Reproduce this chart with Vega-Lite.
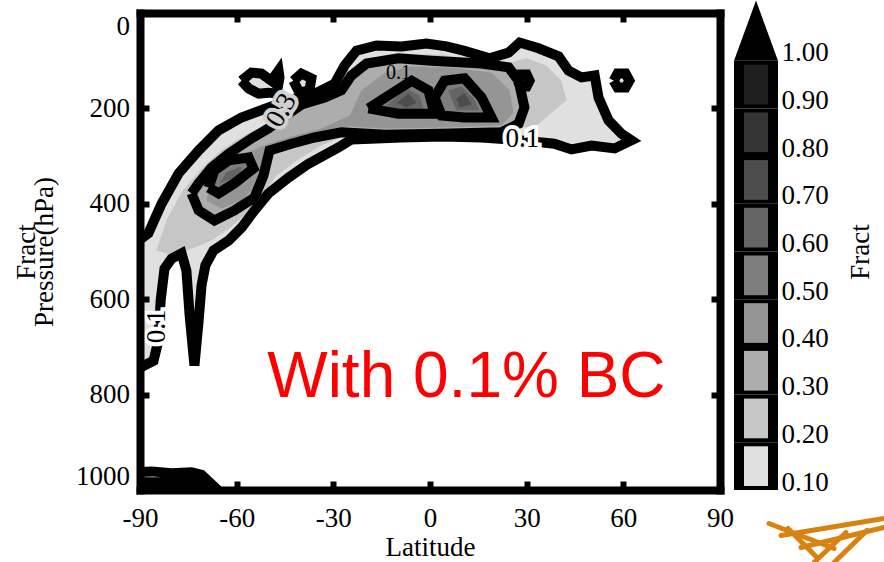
{
  "$schema": "https://vega.github.io/schema/vega-lite/v6.json",
  "background": "white",
  "padding": {"left": 12, "top": 0, "right": 0, "bottom": 0},
  "bounds": "flush",
  "config": {"view": {"stroke": null}, "axis": {"grid": false}},
  "datasets": {
    "poly": [
      {"id":"a","lv":0.1,"i":0,"lat":-93,"p":490},{"id":"a","lv":0.1,"i":1,"lat":-87.4,"p":462},{"id":"a","lv":0.1,"i":2,"lat":-83.3,"p":400},{"id":"a","lv":0.1,"i":3,"lat":-78,"p":336},{"id":"a","lv":0.1,"i":4,"lat":-71.8,"p":288},{"id":"a","lv":0.1,"i":5,"lat":-65.6,"p":246},{"id":"a","lv":0.1,"i":6,"lat":-58.5,"p":219},{"id":"a","lv":0.1,"i":7,"lat":-50.1,"p":198},{"id":"a","lv":0.1,"i":8,"lat":-43.9,"p":183},{"id":"a","lv":0.1,"i":9,"lat":-35.8,"p":169},{"id":"a","lv":0.1,"i":10,"lat":-29.6,"p":148},{"id":"a","lv":0.1,"i":11,"lat":-26.5,"p":110},{"id":"a","lv":0.1,"i":12,"lat":-22.8,"p":79},{"id":"a","lv":0.1,"i":13,"lat":-16.6,"p":68},{"id":"a","lv":0.1,"i":14,"lat":-8.8,"p":70},{"id":"a","lv":0.1,"i":15,"lat":-1.1,"p":64},{"id":"a","lv":0.1,"i":16,"lat":5.1,"p":70},{"id":"a","lv":0.1,"i":17,"lat":10.4,"p":79},{"id":"a","lv":0.1,"i":18,"lat":18.5,"p":95},{"id":"a","lv":0.1,"i":19,"lat":24.4,"p":83},{"id":"a","lv":0.1,"i":20,"lat":27.8,"p":62},{"id":"a","lv":0.1,"i":21,"lat":33.7,"p":74},{"id":"a","lv":0.1,"i":22,"lat":39.9,"p":91},{"id":"a","lv":0.1,"i":23,"lat":43,"p":121},{"id":"a","lv":0.1,"i":24,"lat":47,"p":135},{"id":"a","lv":0.1,"i":25,"lat":51.1,"p":131},{"id":"a","lv":0.1,"i":26,"lat":52.3,"p":177},{"id":"a","lv":0.1,"i":27,"lat":55.4,"p":225},{"id":"a","lv":0.1,"i":28,"lat":59.4,"p":253},{"id":"a","lv":0.1,"i":29,"lat":62.5,"p":267},{"id":"a","lv":0.1,"i":30,"lat":57.3,"p":284},{"id":"a","lv":0.1,"i":31,"lat":50.1,"p":278},{"id":"a","lv":0.1,"i":32,"lat":43.9,"p":286},{"id":"a","lv":0.1,"i":33,"lat":38.6,"p":274},{"id":"a","lv":0.1,"i":34,"lat":28.4,"p":267},{"id":"a","lv":0.1,"i":35,"lat":16,"p":261},{"id":"a","lv":0.1,"i":36,"lat":3.6,"p":259},{"id":"a","lv":0.1,"i":37,"lat":-8.8,"p":261},{"id":"a","lv":0.1,"i":38,"lat":-24.4,"p":265},{"id":"a","lv":0.1,"i":39,"lat":-28.4,"p":282},{"id":"a","lv":0.1,"i":40,"lat":-37.7,"p":316},{"id":"a","lv":0.1,"i":41,"lat":-43.9,"p":345},{"id":"a","lv":0.1,"i":42,"lat":-50.1,"p":378},{"id":"a","lv":0.1,"i":43,"lat":-54.5,"p":414},{"id":"a","lv":0.1,"i":44,"lat":-58.5,"p":450},{"id":"a","lv":0.1,"i":45,"lat":-62.5,"p":477},{"id":"a","lv":0.1,"i":46,"lat":-67.2,"p":498},{"id":"a","lv":0.1,"i":47,"lat":-69.7,"p":529},{"id":"a","lv":0.1,"i":48,"lat":-70.9,"p":571},{"id":"a","lv":0.1,"i":49,"lat":-71.8,"p":645},{"id":"a","lv":0.1,"i":50,"lat":-73.1,"p":739},{"id":"a","lv":0.1,"i":51,"lat":-74.6,"p":634},{"id":"a","lv":0.1,"i":52,"lat":-75.6,"p":540},{"id":"a","lv":0.1,"i":53,"lat":-77.1,"p":504},{"id":"a","lv":0.1,"i":54,"lat":-80.2,"p":515},{"id":"a","lv":0.1,"i":55,"lat":-82.4,"p":536},{"id":"a","lv":0.1,"i":56,"lat":-83.6,"p":603},{"id":"a","lv":0.1,"i":57,"lat":-84.3,"p":687},{"id":"a","lv":0.1,"i":58,"lat":-85.8,"p":729},{"id":"a","lv":0.1,"i":59,"lat":-93,"p":754},{"id":"a","lv":0.1,"i":60,"lat":-93,"p":490},
      {"id":"b1","lv":0.1,"i":0,"lat":-58.5,"p":142},{"id":"b1","lv":0.1,"i":1,"lat":-55.4,"p":125},{"id":"b1","lv":0.1,"i":2,"lat":-52.3,"p":127},{"id":"b1","lv":0.1,"i":3,"lat":-49.2,"p":142},{"id":"b1","lv":0.1,"i":4,"lat":-47,"p":121},{"id":"b1","lv":0.1,"i":5,"lat":-46.7,"p":135},{"id":"b1","lv":0.1,"i":6,"lat":-47.6,"p":169},{"id":"b1","lv":0.1,"i":7,"lat":-50.1,"p":167},{"id":"b1","lv":0.1,"i":8,"lat":-53.2,"p":169},{"id":"b1","lv":0.1,"i":9,"lat":-56.3,"p":158},{"id":"b1","lv":0.1,"i":10,"lat":-58.5,"p":142},
      {"id":"b2","lv":0.1,"i":0,"lat":-42.4,"p":142},{"id":"b2","lv":0.1,"i":1,"lat":-39.9,"p":127},{"id":"b2","lv":0.1,"i":2,"lat":-36.8,"p":137},{"id":"b2","lv":0.1,"i":3,"lat":-37.4,"p":162},{"id":"b2","lv":0.1,"i":4,"lat":-40.5,"p":167},{"id":"b2","lv":0.1,"i":5,"lat":-42.4,"p":142},
      {"id":"b3","lv":0.1,"i":0,"lat":57,"p":142},{"id":"b3","lv":0.1,"i":1,"lat":58.2,"p":127},{"id":"b3","lv":0.1,"i":2,"lat":60.7,"p":127},{"id":"b3","lv":0.1,"i":3,"lat":61.9,"p":142},{"id":"b3","lv":0.1,"i":4,"lat":60.7,"p":156},{"id":"b3","lv":0.1,"i":5,"lat":58.2,"p":156},{"id":"b3","lv":0.1,"i":6,"lat":57,"p":142},
      {"id":"b4","lv":0.1,"i":0,"lat":27.2,"p":142},{"id":"b4","lv":0.1,"i":1,"lat":28.1,"p":129},{"id":"b4","lv":0.1,"i":2,"lat":30,"p":129},{"id":"b4","lv":0.1,"i":3,"lat":30.9,"p":142},{"id":"b4","lv":0.1,"i":4,"lat":30,"p":154},{"id":"b4","lv":0.1,"i":5,"lat":28.1,"p":154},{"id":"b4","lv":0.1,"i":6,"lat":27.2,"p":142},
      {"id":"b5","lv":0.1,"i":0,"lat":-92.6,"p":963},{"id":"b5","lv":0.1,"i":1,"lat":-86.4,"p":961},{"id":"b5","lv":0.1,"i":2,"lat":-80.2,"p":965},{"id":"b5","lv":0.1,"i":3,"lat":-74,"p":963},{"id":"b5","lv":0.1,"i":4,"lat":-70.9,"p":968},{"id":"b5","lv":0.1,"i":5,"lat":-68.4,"p":984},{"id":"b5","lv":0.1,"i":6,"lat":-92.6,"p":984},{"id":"b5","lv":0.1,"i":7,"lat":-92.6,"p":963},
      {"id":"c","lv":0.2,"i":0,"lat":-84.9,"p":498},{"id":"c","lv":0.2,"i":1,"lat":-81.8,"p":435},{"id":"c","lv":0.2,"i":2,"lat":-77.1,"p":376},{"id":"c","lv":0.2,"i":3,"lat":-70.9,"p":326},{"id":"c","lv":0.2,"i":4,"lat":-64.1,"p":284},{"id":"c","lv":0.2,"i":5,"lat":-56,"p":250},{"id":"c","lv":0.2,"i":6,"lat":-47.6,"p":225},{"id":"c","lv":0.2,"i":7,"lat":-39.9,"p":204},{"id":"c","lv":0.2,"i":8,"lat":-30.6,"p":179},{"id":"c","lv":0.2,"i":9,"lat":-25.9,"p":142},{"id":"c","lv":0.2,"i":10,"lat":-21.3,"p":100},{"id":"c","lv":0.2,"i":11,"lat":-8.8,"p":87},{"id":"c","lv":0.2,"i":12,"lat":3.6,"p":87},{"id":"c","lv":0.2,"i":13,"lat":16,"p":104},{"id":"c","lv":0.2,"i":14,"lat":23.7,"p":106},{"id":"c","lv":0.2,"i":15,"lat":29.9,"p":95},{"id":"c","lv":0.2,"i":16,"lat":36.1,"p":110},{"id":"c","lv":0.2,"i":17,"lat":40.8,"p":142},{"id":"c","lv":0.2,"i":18,"lat":42.4,"p":183},{"id":"c","lv":0.2,"i":19,"lat":37.7,"p":209},{"id":"c","lv":0.2,"i":20,"lat":33.1,"p":236},{"id":"c","lv":0.2,"i":21,"lat":23.7,"p":246},{"id":"c","lv":0.2,"i":22,"lat":3.6,"p":246},{"id":"c","lv":0.2,"i":23,"lat":-14,"p":248},{"id":"c","lv":0.2,"i":24,"lat":-24.9,"p":253},{"id":"c","lv":0.2,"i":25,"lat":-33.7,"p":278},{"id":"c","lv":0.2,"i":26,"lat":-41.4,"p":309},{"id":"c","lv":0.2,"i":27,"lat":-47.6,"p":341},{"id":"c","lv":0.2,"i":28,"lat":-52.3,"p":383},{"id":"c","lv":0.2,"i":29,"lat":-57,"p":420},{"id":"c","lv":0.2,"i":30,"lat":-62.2,"p":452},{"id":"c","lv":0.2,"i":31,"lat":-67.8,"p":477},{"id":"c","lv":0.2,"i":32,"lat":-74,"p":494},{"id":"c","lv":0.2,"i":33,"lat":-79.6,"p":508},
      {"id":"d","lv":0.3,"i":0,"lat":-74,"p":378},{"id":"d","lv":0.3,"i":1,"lat":-71.8,"p":357},{"id":"d","lv":0.3,"i":2,"lat":-67.8,"p":324},{"id":"d","lv":0.3,"i":3,"lat":-62.5,"p":295},{"id":"d","lv":0.3,"i":4,"lat":-55.4,"p":263},{"id":"d","lv":0.3,"i":5,"lat":-50.1,"p":242},{"id":"d","lv":0.3,"i":6,"lat":-45.2,"p":217},{"id":"d","lv":0.3,"i":7,"lat":-39.9,"p":192},{"id":"d","lv":0.3,"i":8,"lat":-32.7,"p":177},{"id":"d","lv":0.3,"i":9,"lat":-27.5,"p":162},{"id":"d","lv":0.3,"i":10,"lat":-24.4,"p":131},{"id":"d","lv":0.3,"i":11,"lat":-19.7,"p":106},{"id":"d","lv":0.3,"i":12,"lat":-9.8,"p":95},{"id":"d","lv":0.3,"i":13,"lat":0.5,"p":100},{"id":"d","lv":0.3,"i":14,"lat":16,"p":106},{"id":"d","lv":0.3,"i":15,"lat":24.4,"p":114},{"id":"d","lv":0.3,"i":16,"lat":27.5,"p":142},{"id":"d","lv":0.3,"i":17,"lat":29.3,"p":198},{"id":"d","lv":0.3,"i":18,"lat":27.5,"p":232},{"id":"d","lv":0.3,"i":19,"lat":22.2,"p":250},{"id":"d","lv":0.3,"i":20,"lat":3.6,"p":253},{"id":"d","lv":0.3,"i":21,"lat":-14,"p":255},{"id":"d","lv":0.3,"i":22,"lat":-27.5,"p":250},{"id":"d","lv":0.3,"i":23,"lat":-35.8,"p":261},{"id":"d","lv":0.3,"i":24,"lat":-43,"p":274},{"id":"d","lv":0.3,"i":25,"lat":-49.8,"p":288},{"id":"d","lv":0.3,"i":26,"lat":-51.7,"p":341},{"id":"d","lv":0.3,"i":27,"lat":-54.5,"p":387},{"id":"d","lv":0.3,"i":28,"lat":-60.7,"p":414},{"id":"d","lv":0.3,"i":29,"lat":-66.9,"p":435},{"id":"d","lv":0.3,"i":30,"lat":-71.8,"p":414},{"id":"d","lv":0.3,"i":31,"lat":-74,"p":378},
      {"id":"e","lv":0.4,"i":0,"lat":-69.4,"p":393},{"id":"e","lv":0.4,"i":1,"lat":-67.2,"p":334},{"id":"e","lv":0.4,"i":2,"lat":-60.1,"p":303},{"id":"e","lv":0.4,"i":3,"lat":-51.7,"p":278},{"id":"e","lv":0.4,"i":4,"lat":-43,"p":259},{"id":"e","lv":0.4,"i":5,"lat":-33.7,"p":242},{"id":"e","lv":0.4,"i":6,"lat":-24.9,"p":215},{"id":"e","lv":0.4,"i":7,"lat":-21.3,"p":162},{"id":"e","lv":0.4,"i":8,"lat":-14,"p":125},{"id":"e","lv":0.4,"i":9,"lat":-5.7,"p":112},{"id":"e","lv":0.4,"i":10,"lat":6.7,"p":114},{"id":"e","lv":0.4,"i":11,"lat":19.1,"p":125},{"id":"e","lv":0.4,"i":12,"lat":24.7,"p":162},{"id":"e","lv":0.4,"i":13,"lat":25.9,"p":209},{"id":"e","lv":0.4,"i":14,"lat":22.2,"p":236},{"id":"e","lv":0.4,"i":15,"lat":3.6,"p":240},{"id":"e","lv":0.4,"i":16,"lat":-14,"p":242},{"id":"e","lv":0.4,"i":17,"lat":-24.9,"p":238},{"id":"e","lv":0.4,"i":18,"lat":-35.2,"p":250},{"id":"e","lv":0.4,"i":19,"lat":-44.5,"p":267},{"id":"e","lv":0.4,"i":20,"lat":-50.7,"p":299},{"id":"e","lv":0.4,"i":21,"lat":-52.9,"p":355},{"id":"e","lv":0.4,"i":22,"lat":-58.5,"p":393},{"id":"e","lv":0.4,"i":23,"lat":-64.7,"p":410},
      {"id":"f1","lv":0.5,"i":0,"lat":-19.1,"p":200},{"id":"f1","lv":0.5,"i":1,"lat":-12,"p":169},{"id":"f1","lv":0.5,"i":2,"lat":-5.7,"p":142},{"id":"f1","lv":0.5,"i":3,"lat":-0.5,"p":162},{"id":"f1","lv":0.5,"i":4,"lat":1.4,"p":211},{"id":"f1","lv":0.5,"i":5,"lat":-9.8,"p":211},{"id":"f1","lv":0.5,"i":6,"lat":-19.1,"p":200},
      {"id":"f2","lv":0.5,"i":0,"lat":1.4,"p":177},{"id":"f2","lv":0.5,"i":1,"lat":4.5,"p":142},{"id":"f2","lv":0.5,"i":2,"lat":10.7,"p":137},{"id":"f2","lv":0.5,"i":3,"lat":16,"p":177},{"id":"f2","lv":0.5,"i":4,"lat":19.1,"p":219},{"id":"f2","lv":0.5,"i":5,"lat":10.7,"p":219},{"id":"f2","lv":0.5,"i":6,"lat":3.6,"p":215},{"id":"f2","lv":0.5,"i":7,"lat":1.4,"p":177},
      {"id":"f3","lv":0.5,"i":0,"lat":-68.7,"p":366},{"id":"f3","lv":0.5,"i":1,"lat":-66.9,"p":330},{"id":"f3","lv":0.5,"i":2,"lat":-62.5,"p":309},{"id":"f3","lv":0.5,"i":3,"lat":-56.3,"p":303},{"id":"f3","lv":0.5,"i":4,"lat":-54.8,"p":326},{"id":"f3","lv":0.5,"i":5,"lat":-60.7,"p":357},{"id":"f3","lv":0.5,"i":6,"lat":-65.6,"p":378},{"id":"f3","lv":0.5,"i":7,"lat":-68.7,"p":366},
      {"id":"g1","lv":0.6,"i":0,"lat":-13.5,"p":194},{"id":"g1","lv":0.6,"i":1,"lat":-7.3,"p":158},{"id":"g1","lv":0.6,"i":2,"lat":-3.3,"p":173},{"id":"g1","lv":0.6,"i":3,"lat":-2,"p":200},{"id":"g1","lv":0.6,"i":4,"lat":-8.8,"p":204},
      {"id":"g2","lv":0.6,"i":0,"lat":5.7,"p":162},{"id":"g2","lv":0.6,"i":1,"lat":9.8,"p":154},{"id":"g2","lv":0.6,"i":2,"lat":13.5,"p":179},{"id":"g2","lv":0.6,"i":3,"lat":15.4,"p":204},{"id":"g2","lv":0.6,"i":4,"lat":8.2,"p":204},
      {"id":"g3","lv":0.6,"i":0,"lat":-65.3,"p":357},{"id":"g3","lv":0.6,"i":1,"lat":-63.2,"p":334},{"id":"g3","lv":0.6,"i":2,"lat":-58.5,"p":322},{"id":"g3","lv":0.6,"i":3,"lat":-59.1,"p":341},
      {"id":"h1","lv":0.7,"i":0,"lat":-10.1,"p":188},{"id":"h1","lv":0.7,"i":1,"lat":-6.7,"p":169},{"id":"h1","lv":0.7,"i":2,"lat":-4.2,"p":188},{"id":"h1","lv":0.7,"i":3,"lat":-7.3,"p":198},
      {"id":"h2","lv":0.7,"i":0,"lat":8.2,"p":179},{"id":"h2","lv":0.7,"i":1,"lat":10.7,"p":167},{"id":"h2","lv":0.7,"i":2,"lat":12.9,"p":192},{"id":"h2","lv":0.7,"i":3,"lat":9.2,"p":198}
    ],
    "bar": [
      {"lo":0.1,"hi":0.2},{"lo":0.2,"hi":0.3},{"lo":0.3,"hi":0.4},{"lo":0.4,"hi":0.5},{"lo":0.5,"hi":0.6},{"lo":0.6,"hi":0.7},{"lo":0.7,"hi":0.8},{"lo":0.8,"hi":0.9},{"lo":0.9,"hi":1.0}
    ],
    "tri": [
      {"i":0,"u":0,"v":1.0},{"i":1,"u":1,"v":1.0},{"i":2,"u":0.5,"v":1.126}
    ],
    "logo": [
      {"u":0.795,"v":0.0298,"u2":2.273,"v2":-0.0226},
      {"u":1.068,"v":0.0046,"u2":3.409,"v2":0.0403},
      {"u":1.523,"v":-0.0205,"u2":3.409,"v2":0.0214},
      {"u":1.818,"v":-0.052,"u2":2.545,"v2":0.0109},
      {"u":2.273,"v":-0.052,"u2":3.023,"v2":0.0151},
      {"u":1.227,"v":0.0193,"u2":1.864,"v2":-0.0394}
    ]
  },
  "hconcat": [
    {
      "width": 580,
      "height": 477,
      "data": {"name": "poly"},
      "resolve": {"axis": {"x": "independent", "y": "independent"}},
      "encoding": {
        "x": {"field": "lat", "type": "quantitative", "scale": {"domain": [-90, 90], "nice": false, "zero": false}},
        "y": {"field": "p", "type": "quantitative", "scale": {"domain": [0, 1000], "nice": false, "reverse": true}},
        "order": {"field": "i", "type": "quantitative"},
        "detail": {"field": "id", "type": "nominal"}
      },
      "layer": [
        {
          "transform": [{"filter": "datum.lv == 0.1"}],
          "mark": {"type": "line", "filled": true, "color": "#e0e0e0", "clip": true},
          "encoding": {
            "x": {"field": "lat", "type": "quantitative", "axis": {"orient": "bottom", "values": [-90,-60,-30,0,30,60,90], "labelExpr": "'' + datum.value", "title": "Latitude", "titleFont": "Liberation Serif", "titleFontSize": 27, "titleFontWeight": "normal", "titleColor": "black", "titlePadding": 3, "labelFont": "Liberation Serif", "labelFontSize": 27, "labelColor": "black", "labelPadding": 24, "labelFlush": false, "labelOverlap": false, "tickSize": -9, "tickWidth": 6, "tickColor": "black", "domainWidth": 8, "domainColor": "black", "domainCap": "square", "zindex": 1}},
            "y": {"field": "p", "type": "quantitative", "axis": {"orient": "left", "values": [0,200,400,600,800,1000], "labelExpr": "'' + datum.value", "title": ["Fract", "Pressure(hPa)"], "titleFont": "Liberation Serif", "titleFontSize": 27, "titleFontWeight": "normal", "titleColor": "black", "titleLineHeight": 18, "titlePadding": 17, "labelFont": "Liberation Serif", "labelFontSize": 27, "labelColor": "black", "labelPadding": 19.5, "labelFlush": true, "labelOverlap": false, "tickSize": -9, "tickWidth": 6, "tickColor": "black", "domainWidth": 8, "domainColor": "black", "domainCap": "square", "zindex": 1}}
          }
        },
        {"transform": [{"filter": "datum.lv == 0.2"}], "mark": {"type": "line", "filled": true, "color": "#c6c6c6", "clip": true}, "encoding": {"x": {"field": "lat", "type": "quantitative", "axis": null}, "y": {"field": "p", "type": "quantitative", "axis": null}}},
        {"transform": [{"filter": "datum.lv == 0.3"}], "mark": {"type": "line", "filled": true, "color": "#adadad", "clip": true}, "encoding": {"x": {"field": "lat", "type": "quantitative", "axis": null}, "y": {"field": "p", "type": "quantitative", "axis": null}}},
        {"transform": [{"filter": "datum.lv == 0.4"}], "mark": {"type": "line", "filled": true, "color": "#959595", "clip": true}, "encoding": {"x": {"field": "lat", "type": "quantitative", "axis": null}, "y": {"field": "p", "type": "quantitative", "axis": null}}},
        {"transform": [{"filter": "datum.lv == 0.5"}], "mark": {"type": "line", "filled": true, "color": "#7d7d7d", "clip": true}, "encoding": {"x": {"field": "lat", "type": "quantitative", "axis": null}, "y": {"field": "p", "type": "quantitative", "axis": null}}},
        {"transform": [{"filter": "datum.lv == 0.6"}], "mark": {"type": "line", "filled": true, "color": "#656565", "clip": true}, "encoding": {"x": {"field": "lat", "type": "quantitative", "axis": null}, "y": {"field": "p", "type": "quantitative", "axis": null}}},
        {"transform": [{"filter": "datum.lv == 0.7"}], "mark": {"type": "line", "filled": true, "color": "#4d4d4d", "clip": true}, "encoding": {"x": {"field": "lat", "type": "quantitative", "axis": null}, "y": {"field": "p", "type": "quantitative", "axis": null}}},
        {
          "transform": [{"filter": "datum.lv == 0.1 || datum.lv == 0.3 || datum.lv == 0.5"}],
          "mark": {"type": "line", "color": "black", "strokeWidth": 10, "strokeJoin": "miter", "clip": true},
          "encoding": {
            "x": {"field": "lat", "type": "quantitative", "axis": {"orient": "top", "values": [-90,-60,-30,0,30,60,90], "labels": false, "title": null, "tickSize": -9, "tickWidth": 6, "tickColor": "black", "domainWidth": 8, "domainColor": "black", "domainCap": "square", "zindex": 1}},
            "y": {"field": "p", "type": "quantitative", "axis": {"orient": "right", "values": [0,200,400,600,800,1000], "labels": false, "title": null, "tickSize": -9, "tickWidth": 6, "tickColor": "black", "domainWidth": 8, "domainColor": "black", "domainCap": "square", "zindex": 1}}
          }
        },
        {
          "data": {"values": [{"t": "0.1", "lat": 28.7, "p": 265}]},
          "mark": {"type": "text", "font": "Liberation Serif", "fontSize": 27, "color": "white", "stroke": "white", "strokeWidth": 8},
          "encoding": {"text": {"field": "t"}, "x": {"field": "lat", "type": "quantitative", "axis": null}, "y": {"field": "p", "type": "quantitative", "axis": null}, "order": null, "detail": null}
        },
        {
          "data": {"values": [{"t": "0.1", "lat": 28.7, "p": 265}]},
          "mark": {"type": "text", "font": "Liberation Serif", "fontSize": 27, "color": "black"},
          "encoding": {"text": {"field": "t"}, "x": {"field": "lat", "type": "quantitative", "axis": null}, "y": {"field": "p", "type": "quantitative", "axis": null}, "order": null, "detail": null}
        },
        {
          "data": {"values": [{"t": "0.1", "lat": -84.6, "p": 657}]},
          "mark": {"type": "text", "font": "Liberation Serif", "fontSize": 27, "color": "white", "stroke": "white", "strokeWidth": 8, "angle": 270},
          "encoding": {"text": {"field": "t"}, "x": {"field": "lat", "type": "quantitative", "axis": null}, "y": {"field": "p", "type": "quantitative", "axis": null}, "order": null, "detail": null}
        },
        {
          "data": {"values": [{"t": "0.1", "lat": -84.6, "p": 657}]},
          "mark": {"type": "text", "font": "Liberation Serif", "fontSize": 27, "color": "black", "angle": 270},
          "encoding": {"text": {"field": "t"}, "x": {"field": "lat", "type": "quantitative", "axis": null}, "y": {"field": "p", "type": "quantitative", "axis": null}, "order": null, "detail": null}
        },
        {
          "data": {"values": [{"t": "0.3", "lat": -46.1, "p": 204}]},
          "mark": {"type": "text", "font": "Liberation Serif", "fontSize": 27, "color": "#d0d0d0", "stroke": "#d0d0d0", "strokeWidth": 8, "angle": 300},
          "encoding": {"text": {"field": "t"}, "x": {"field": "lat", "type": "quantitative", "axis": null}, "y": {"field": "p", "type": "quantitative", "axis": null}, "order": null, "detail": null}
        },
        {
          "data": {"values": [{"t": "0.3", "lat": -46.1, "p": 204}]},
          "mark": {"type": "text", "font": "Liberation Serif", "fontSize": 27, "color": "black", "angle": 300},
          "encoding": {"text": {"field": "t"}, "x": {"field": "lat", "type": "quantitative", "axis": null}, "y": {"field": "p", "type": "quantitative", "axis": null}, "order": null, "detail": null}
        },
        {
          "data": {"values": [{"t": "0.1", "lat": -9.8, "p": 125}]},
          "mark": {"type": "text", "font": "Liberation Serif", "fontSize": 20, "color": "black"},
          "encoding": {"text": {"field": "t"}, "x": {"field": "lat", "type": "quantitative", "axis": null}, "y": {"field": "p", "type": "quantitative", "axis": null}, "order": null, "detail": null}
        },
        {
          "data": {"values": [{"t": "With 0.1% BC", "lat": 11.3, "p": 806}]},
          "mark": {"type": "text", "font": "Liberation Sans", "fontSize": 64, "color": "#ff0000", "baseline": "alphabetic", "align": "center"},
          "encoding": {"text": {"field": "t"}, "x": {"field": "lat", "type": "quantitative", "axis": null}, "y": {"field": "p", "type": "quantitative", "axis": null}, "order": null, "detail": null}
        }
      ]
    },
    {
      "width": 44,
      "height": 477,
      "layer": [
        {
          "data": {"name": "bar"},
          "mark": {"type": "rect", "color": "black"},
          "encoding": {
            "x": {"datum": 0, "type": "quantitative", "scale": {"domain": [0, 1], "nice": false, "zero": false}, "axis": null},
            "x2": {"datum": 1},
            "y": {"field": "lo", "type": "quantitative", "scale": {"domain": [0.1, 1.1], "nice": false, "zero": false}, "axis": {"orient": "right", "values": [0.1,0.2,0.3,0.4,0.5,0.6,0.7,0.8,0.9,1.0], "format": ".2f", "domain": false, "ticks": false, "grid": false, "labelFont": "Liberation Serif", "labelFontSize": 27, "labelColor": "black", "labelPadding": 3, "labelOffset": -8, "labelFlush": false, "labelOverlap": false, "title": "Fract", "titleAngle": 270, "titleFont": "Liberation Serif", "titleFontSize": 27, "titleFontWeight": "normal", "titleColor": "black", "titlePadding": 46}},
            "y2": {"field": "hi"}
          }
        },
        {
          "data": {"name": "bar"},
          "mark": {"type": "rect", "xOffset": 10, "x2Offset": -10, "yOffset": -4, "y2Offset": 4},
          "encoding": {
            "x": {"datum": 0, "type": "quantitative"},
            "x2": {"datum": 1},
            "y": {"field": "lo", "type": "quantitative"},
            "y2": {"field": "hi"},
            "color": {"field": "lo", "type": "ordinal", "scale": {"domain": [0.1,0.2,0.3,0.4,0.5,0.6,0.7,0.8,0.9], "range": ["#e0e0e0","#c6c6c6","#adadad","#959595","#7d7d7d","#656565","#4d4d4d","#353535","#1e1e1e"]}, "legend": null}
          }
        },
        {
          "data": {"name": "tri"},
          "mark": {"type": "line", "filled": true, "color": "black", "clip": false},
          "encoding": {
            "x": {"field": "u", "type": "quantitative"},
            "y": {"field": "v", "type": "quantitative"},
            "order": {"field": "i", "type": "quantitative"}
          }
        },
        {
          "data": {"name": "logo"},
          "mark": {"type": "rule", "color": "#d9820f", "strokeWidth": 5, "strokeCap": "round", "clip": false},
          "encoding": {
            "x": {"field": "u", "type": "quantitative"},
            "y": {"field": "v", "type": "quantitative"},
            "x2": {"field": "u2"},
            "y2": {"field": "v2"}
          }
        }
      ]
    }
  ],
  "spacing": 14
}
